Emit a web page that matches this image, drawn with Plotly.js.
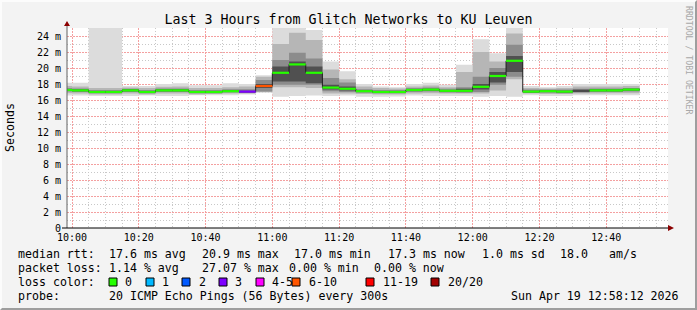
<!DOCTYPE html>
<html><head><meta charset="utf-8">
<script src="https://cdn.plot.ly/plotly-3.0.1.min.js"></script>
<style>
html,body{margin:0;padding:0;background:#f3f3f3;}
#wrap{position:relative;width:697px;height:310px;overflow:hidden;}
#chart{width:697px;height:310px;}
#frame{position:absolute;left:0;top:0;width:697px;height:310px;box-sizing:border-box;border-top:2px solid #fcfcfc;border-left:2px solid #fcfcfc;border-right:2px solid #9e9e9e;border-bottom:2px solid #9e9e9e;pointer-events:none;}
</style></head><body>
<div id="wrap"><div id="chart"></div><div id="frame"></div></div>
<script>
// ---- data (ms), one value per 5-minute step, step start times ----
const stepStart = ['2026-04-19 09:55','2026-04-19 10:00','2026-04-19 10:05','2026-04-19 10:10','2026-04-19 10:15','2026-04-19 10:20','2026-04-19 10:25','2026-04-19 10:30','2026-04-19 10:35','2026-04-19 10:40','2026-04-19 10:45','2026-04-19 10:50','2026-04-19 10:55','2026-04-19 11:00','2026-04-19 11:05','2026-04-19 11:10','2026-04-19 11:15','2026-04-19 11:20','2026-04-19 11:25','2026-04-19 11:30','2026-04-19 11:35','2026-04-19 11:40','2026-04-19 11:45','2026-04-19 11:50','2026-04-19 11:55','2026-04-19 12:00','2026-04-19 12:05','2026-04-19 12:10','2026-04-19 12:15','2026-04-19 12:20','2026-04-19 12:25','2026-04-19 12:30','2026-04-19 12:35','2026-04-19 12:40','2026-04-19 12:45'];
const lastStepEnd = '2026-04-19 12:50';
const median = [17.25,17.2,17.0,17.0,17.2,17.0,17.2,17.2,17.0,17.0,17.1,17.05,17.75,19.4,20.45,19.4,17.55,17.4,17.1,17.0,17.0,17.25,17.3,17.15,17.15,17.65,19.0,20.9,17.05,17.1,17.05,17.15,17.2,17.2,17.3];
const lossCount = [0,0,0,0,0,0,0,0,0,0,0,3,6,0,0,0,0,0,0,0,0,0,0,0,0,0,0,0,0,0,0,-1,0,0,0];
const pingMax = [18.15,18.15,25.8,25.8,17.75,17.75,18.0,18.1,17.85,17.85,18.1,18.0,19.1,25.8,25.8,24.75,20.8,19.6,18.0,17.7,17.6,18.0,18.15,17.9,20.4,23.6,21.85,25.8,17.75,17.6,17.75,18.0,18.0,18.0,18.0];
const pingMin = [16.55,16.55,16.5,16.5,16.5,16.55,16.5,16.5,16.6,16.6,16.6,16.7,16.9,16.4,16.5,16.55,16.5,16.55,16.4,16.4,16.45,16.55,16.5,16.5,16.5,16.4,16.5,16.4,16.6,16.5,16.5,16.6,16.6,16.6,16.6];
const p90 = [17.75,17.7,17.5,17.5,17.55,17.5,17.65,17.7,17.5,17.5,17.6,17.7,18.9,23.0,24.4,23.5,19.8,18.6,17.7,17.5,17.45,17.7,17.8,17.6,19.5,22.0,20.8,24.3,17.5,17.45,17.5,17.7,17.7,17.7,17.75];
const p10 = [16.85,16.8,16.7,16.7,16.8,16.7,16.8,16.8,16.7,16.75,16.8,16.8,17.0,17.6,17.6,17.5,16.8,16.8,16.75,16.7,16.7,16.8,16.85,16.8,16.8,16.8,17.2,18.6,16.8,16.75,16.75,16.8,16.8,16.85,16.85];
const p75 = [17.5,17.45,17.25,17.25,17.4,17.25,17.45,17.45,17.25,17.25,17.35,17.35,18.5,21.0,21.9,21.2,18.75,18.2,17.35,17.25,17.25,17.5,17.55,17.4,17.6,18.9,20.0,22.9,17.3,17.3,17.3,17.4,17.45,17.45,17.5];
const p25 = [17.05,17.0,16.85,16.85,17.0,16.85,17.0,17.0,16.85,16.85,16.95,16.9,17.05,17.9,17.9,17.9,17.1,17.0,16.9,16.85,16.85,17.0,17.05,16.95,16.9,17.0,17.9,18.9,16.9,16.9,16.85,16.95,17.0,17.0,17.05];
const p60 = [17.35,17.3,17.1,17.1,17.3,17.1,17.3,17.3,17.1,17.1,17.2,17.15,18.0,20.2,20.8,20.2,17.9,17.7,17.2,17.1,17.1,17.35,17.4,17.25,17.4,18.0,19.5,21.5,17.15,17.2,17.15,17.25,17.3,17.3,17.4];
const p40 = [17.15,17.1,16.95,16.95,17.1,16.95,17.1,17.1,16.95,16.95,17.0,16.95,17.5,18.3,18.3,18.1,17.3,17.2,17.0,16.95,16.95,17.15,17.2,17.05,17.05,17.3,18.2,19.5,16.95,17.0,16.95,17.05,17.1,17.1,17.2];
const yTickVals = [0,2,4,6,8,10,12,14,16,18,20,22,24];
const yTickText = ['0','2 m','4 m','6 m','8 m','10 m','12 m','14 m','16 m','18 m','20 m','22 m','24 m'];
const lossLabels = ['0','1','2','3','4-5','6-10','11-19','20/20'];
const lossColors = ['#26ff00','#00b8ff','#0059ff','#7e00ff','#ff00ff','#ff5500','#ff0000','#a10000'];
const statsLine1 = ['median rtt:','17.6 ms avg','20.9 ms max','17.0 ms min','17.3 ms now','1.0 ms sd','18.0','am/s'];
const statsLine2 = ['packet loss:','1.14 % avg','27.07 % max','0.00 % min','0.00 % now'];
const probeText = ['probe:','20 ICMP Echo Pings (56 Bytes) every 300s','Sun Apr 19 12:58:12 2026'];

// ---- layout constants (pixels) ----
const L = 67, R = 668, T = 28, B = 228;
const W = R - L, H = B - T;
const X = px => (px - L) / W;
const Y = py => (B - py) / H;
const FONT = 'DejaVu Sans Mono';
const FS = 11.6;

function lossColor(n){
  if (n < 0) return '#4a4a4a';
  if (n === 0) return lossColors[0];
  if (n === 1) return lossColors[1];
  if (n === 2) return lossColors[2];
  if (n === 3) return lossColors[3];
  if (n <= 5) return lossColors[4];
  if (n <= 10) return lossColors[5];
  if (n <= 19) return lossColors[6];
  return lossColors[7];
}

const xs = stepStart.concat([lastStepEnd]);
const ext = a => a.concat([a[a.length-1]]);

const traces = [];
function band(lo, hi, color){
  traces.push({x: xs, y: ext(lo), type:'scatter', mode:'lines', line:{shape:'hv', width:0, color:color}, hoverinfo:'skip'});
  traces.push({x: xs, y: ext(hi), type:'scatter', mode:'lines', line:{shape:'hv', width:0, color:color}, fill:'tonexty', fillcolor:color, hoverinfo:'skip'});
}
band(pingMin, pingMax, '#dcdcdc');
band(p10, p90, '#b6b6b6');
band(p25, p75, '#8c8c8c');
band(p40, p60, '#505050');

traces.push({x: xs, y: ext(median), type:'scatter', mode:'lines', line:{shape:'hv', width:1, color:'#202020'}, hoverinfo:'skip'});

for (let i = 0; i < median.length; i++){
  traces.push({x: [xs[i], xs[i+1]], y: [median[i], median[i]], type:'scatter', mode:'lines', line:{width:2.2, color:lossColor(lossCount[i])}, hoverinfo:'skip'});
}

const annotations = [];
function txt(text, px, py, opts){
  annotations.push(Object.assign({text:text, xref:'paper', yref:'paper', x:X(px), y:Y(py), xanchor:'left', yanchor:'middle', showarrow:false, font:{family:FONT, size:FS, color:'#000'}}, opts||{}));
}
const l1x = [16,107,200,292,386,480,558,607];
statsLine1.forEach((s,i)=>txt(s, l1x[i], 254));
const l2x = [16,107,200,287,372];
statsLine2.forEach((s,i)=>txt(s, l2x[i], 268));
txt('loss color:', 16, 282);
const boxX = [109,146,182,219,256,292,366,431];
const labX = [123,160,197,233,270,307,381,446];
const shapes = [];
lossLabels.forEach((s,i)=>{
  txt(s, labX[i], 282);
  shapes.push({type:'rect', xref:'paper', yref:'paper', x0:X(boxX[i]), x1:X(boxX[i]+8), y0:Y(278), y1:Y(286), fillcolor:lossColors[i], line:{color:'#000', width:1}});
});
txt(probeText[0], 16, 296);
txt(probeText[1], 107, 296);
txt(probeText[2], 681, 296, {xanchor:'right'});
txt('Seconds', 10, 128, {xanchor:'center', textangle:-90});
txt('RRDTOOL / TOBI OETIKER', 689, 60, {xanchor:'center', textangle:90, font:{family:FONT, size:8.2, color:'#a8a8a8'}});

// axis lines & arrows
shapes.push({type:'line', xref:'paper', yref:'paper', x0:X(67), x1:X(67), y0:Y(228), y1:Y(25), line:{color:'#606060', width:1}});
shapes.push({type:'line', xref:'paper', yref:'paper', x0:X(62), x1:X(669), y0:Y(228), y1:Y(228), line:{color:'#000', width:1}});
shapes.push({type:'path', xref:'paper', yref:'paper', path:`M ${X(64)} ${Y(26)} L ${X(70)} ${Y(26)} L ${X(67)} ${Y(21)} Z`, fillcolor:'#8b0000', line:{width:0}});
shapes.push({type:'path', xref:'paper', yref:'paper', path:`M ${X(668)} ${Y(225)} L ${X(668)} ${Y(231)} L ${X(674)} ${Y(228)} Z`, fillcolor:'#8b0000', line:{width:0}});

const layout = {
  width:697, height:310,
  margin:{l:L, r:697-R, t:T, b:310-B, pad:0},
  paper_bgcolor:'#f3f3f3', plot_bgcolor:'#ffffff',
  showlegend:false,
  title:{text:'Last 3 Hours from Glitch Networks to KU Leuven', font:{family:FONT, size:13.3, color:'#000'}, xref:'container', x:0.5, xanchor:'center', yref:'container', y:1-19/310, yanchor:'middle'},
  xaxis:{type:'date', range:['2026-04-19 09:58:30','2026-04-19 12:58:30'], tickmode:'linear', tick0:'2026-04-19 10:00', dtick:1200000, tickformat:'%H:%M',
    showgrid:true, gridcolor:'#f4a0a0', griddash:'2px,1px', gridwidth:1,
    minor:{tickmode:'linear', tick0:'2026-04-19 10:00', dtick:300000, showgrid:true, gridcolor:'#c8c8c8', griddash:'1px,2px', gridwidth:1},
    zeroline:false, showline:false, ticks:'', ticklabelstandoff:2, tickfont:{family:FONT, size:10, color:'#000'}, fixedrange:true},
  yaxis:{range:[0,25], tickmode:'array', tickvals:yTickVals, ticktext:yTickText,
    showgrid:true, gridcolor:'#f4a0a0', griddash:'2px,1px', gridwidth:1,
    minor:{tickmode:'linear', tick0:0, dtick:1, showgrid:true, gridcolor:'#c8c8c8', griddash:'1px,2px', gridwidth:1},
    zeroline:false, showline:false, ticks:'', ticklabelstandoff:5, tickfont:{family:FONT, size:10, color:'#000'}, fixedrange:true},
  annotations:annotations,
  shapes:shapes
};
Plotly.newPlot('chart', traces, layout, {staticPlot:true, displayModeBar:false});
</script></body></html>
